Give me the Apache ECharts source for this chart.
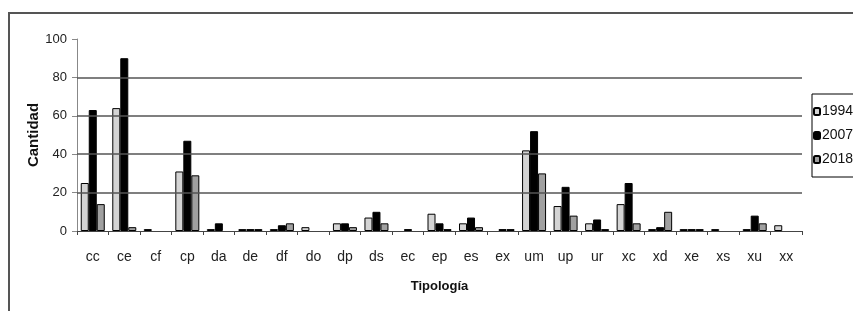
<!DOCTYPE html>
<html>
<head>
<meta charset="utf-8">
<script src="https://cdn.jsdelivr.net/npm/echarts@6/dist/echarts.min.js"></script>
<style>
html,body{margin:0;padding:0;background:#fff;}
#chart{width:853px;height:311px;}
</style>
</head>
<body>
<div id="chart"></div>
<script>
const categories = ['cc','ce','cf','cp','da','de','df','do','dp','ds','ec','ep','es','ex','um','up','ur','xc','xd','xe','xs','xu','xx'];
const s1994 = [25,64,1,31,1,1,1,2,4,7,0,9,4,0,42,13,4,14,1,1,1,1,3];
const s2007 = [63,90,0,47,4,1,3,0,4,10,1,4,7,1,52,23,6,25,2,1,0,8,0];
const s2018 = [14,2,0,29,0,1,4,0,2,4,0,1,2,1,30,8,1,4,10,1,0,4,0];
const yTicks = [0,20,40,60,80,100];
const gridValues = [20,40,60,80];

const font = '"Liberation Sans", Arial, sans-serif';
const nz = arr => arr.map(v => v === 0 ? '-' : v);
const chart = echarts.init(document.getElementById('chart'), null, {renderer:'canvas'});
const barBase = {type:'bar', barWidth:8, barGap:'0%', animation:false};
chart.setOption({
  animation:false,
  backgroundColor:'#fff',
  textStyle:{fontFamily:font},
  grid:{left:77, right:51, top:39, bottom:80, containLabel:false},
  graphic:[{type:'rect', shape:{x:9,y:13,width:900,height:400}, style:{fill:'none', stroke:'#555', lineWidth:2}, silent:true}],
  legend:{
    orient:'vertical', left:812, top:94,
    padding:[10,30,10,1], itemGap:9,
    itemWidth:6, itemHeight:7,
    borderColor:'#000', borderWidth:1,
    textStyle:{fontFamily:font, fontSize:14, color:'#111', padding:[0,0,0,-3], lineHeight:15},
    data:['1994','2007','2018']
  },
  xAxis:{
    type:'category', data:categories,
    axisLine:{lineStyle:{color:'#444', width:1}},
    axisTick:{show:true, length:4, lineStyle:{color:'#444'}},
    axisLabel:{color:'#222', fontSize:14, fontFamily:font, margin:19, interval:0},
    name:'Tipología', nameLocation:'middle', nameGap:49, nameMoveOverlap:false,
    nameTextStyle:{fontWeight:'bold', fontSize:13, color:'#111', fontFamily:font}
  },
  yAxis:{
    type:'value', min:yTicks[0], max:yTicks[yTicks.length-1], interval:20,
    axisLine:{show:true, lineStyle:{color:'#888', width:1}},
    axisTick:{show:true, length:5, lineStyle:{color:'#888'}},
    axisLabel:{color:'#222', fontSize:13, fontFamily:font, margin:10},
    splitLine:{show:false},
    name:'Cantidad', nameLocation:'middle', nameGap:36, nameRotate:90, nameMoveOverlap:false,
    nameTextStyle:{fontWeight:'bold', fontSize:15, color:'#111', fontFamily:font}
  },
  series:[
    Object.assign({}, barBase, {name:'1994', data:nz(s1994), itemStyle:{color:'#d4d4d4', borderColor:'#000', borderWidth:1},
      markLine:{silent:true, symbol:'none', label:{show:false}, lineStyle:{color:'#555', width:1.6, type:'solid'},
        data:gridValues.map(v=>({yAxis:v}))}}),
    Object.assign({}, barBase, {name:'2007', data:nz(s2007), itemStyle:{color:'#000', borderColor:'#000', borderWidth:1}}),
    Object.assign({}, barBase, {name:'2018', data:nz(s2018), itemStyle:{color:'#a0a0a0', borderColor:'#000', borderWidth:1}})
  ]
});
</script>
</body>
</html>
